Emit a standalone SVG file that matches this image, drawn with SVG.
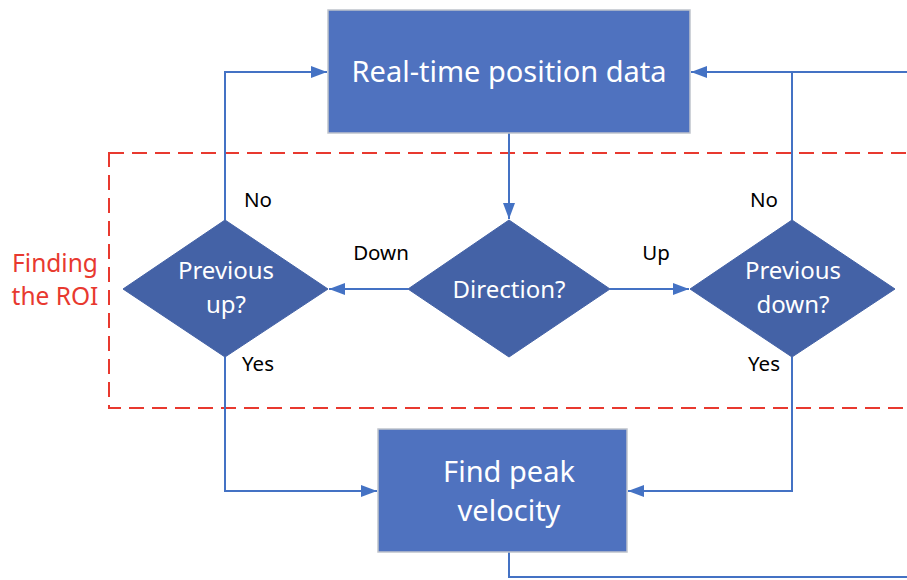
<svg xmlns="http://www.w3.org/2000/svg" width="907" height="580" viewBox="0 0 907 580">
<defs>
<style>
.box{fill:#4F72BF;stroke:#BFC3CC;stroke-width:1.5}
.dia{fill:#4462A6;stroke:#4462A6;stroke-width:1}
.t{font-family:"Noto Sans","Open Sans",sans-serif;fill:#fff;text-anchor:middle}
.lbl{font-family:"Noto Sans","Open Sans",sans-serif;fill:#000;font-size:20.5px;text-anchor:middle}
.c{fill:none;stroke:#4472C4;stroke-width:2}
</style>
<marker id="ah" viewBox="0 0 16 12" refX="16" refY="6" markerWidth="16" markerHeight="12" markerUnits="userSpaceOnUse" orient="auto">
<path d="M0,0 L16,6 L0,12 Z" fill="#4472C4"/>
</marker>
</defs>
<rect x="109" y="153" width="810" height="255" fill="none" stroke="#E8392F" stroke-width="2" stroke-dasharray="15,8"/>
<g font-family="Noto Sans, Open Sans, sans-serif" font-size="24.5" fill="#E8392F" text-anchor="middle">
<text x="55" y="272">Finding</text>
<text x="55" y="305">the ROI</text>
</g>
<g id="connectors">
<path class="c" d="M509,133 L509,219" marker-end="url(#ah)"/>
<path class="c" d="M408,289 L329,289" marker-end="url(#ah)"/>
<path class="c" d="M610,289 L689,289" marker-end="url(#ah)"/>
<path class="c" d="M225,220 L225,72 L327,72" marker-end="url(#ah)"/>
<path class="c" d="M225,357 L225,491 L377,491" marker-end="url(#ah)"/>
<path class="c" d="M792,220 L792,72"/>
<path class="c" d="M907,72 L691,72" marker-end="url(#ah)"/>
<path class="c" d="M792,357 L792,491 L628,491" marker-end="url(#ah)"/>
<path class="c" d="M509,552 L509,577 L907,577"/>
</g>
<g id="n-realtime">
<rect class="box" x="328" y="10" width="362" height="123"/>
<text class="t" x="509" y="82" font-size="29">Real-time position data</text>
</g>
<g id="n-direction">
<polygon class="dia" points="509,220 610,289 509,357 408,289"/>
<text class="t" x="509" y="298" font-size="24">Direction?</text>
</g>
<g id="n-prevup">
<polygon class="dia" points="225,220 328,289 225,357 123,289"/>
<text class="t" x="226" y="279" font-size="24">Previous</text>
<text class="t" x="226" y="313" font-size="24">up?</text>
</g>
<g id="n-prevdown">
<polygon class="dia" points="792,220 895,289 792,357 690,289"/>
<text class="t" x="793" y="279" font-size="24">Previous</text>
<text class="t" x="793" y="313" font-size="24">down?</text>
</g>
<g id="n-peak">
<rect class="box" x="378" y="429" width="249" height="123"/>
<text class="t" x="509" y="482" font-size="29">Find peak</text>
<text class="t" x="509" y="521" font-size="29">velocity</text>
</g>
<g id="labels">
<text class="lbl" x="258" y="207">No</text>
<text class="lbl" x="258" y="371">Yes</text>
<text class="lbl" x="381" y="260">Down</text>
<text class="lbl" x="656" y="260">Up</text>
<text class="lbl" x="764" y="207">No</text>
<text class="lbl" x="764" y="371">Yes</text>
</g>
</svg>
